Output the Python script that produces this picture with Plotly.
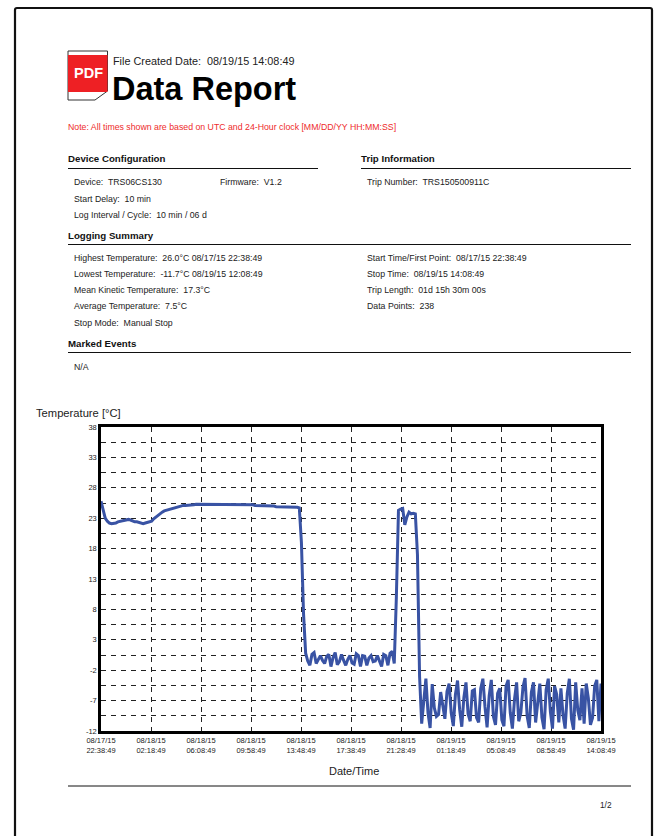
import plotly.graph_objects as go

W, H = 663, 836
FONT = "Liberation Sans"

temperature = [
    25.8, 24.3, 23.0, 22.5, 22.2, 22.1, 22.1, 22.2, 22.4, 22.5,
    22.6, 22.7, 22.7, 22.8, 22.7, 22.5, 22.4, 22.4, 22.3, 22.2,
    22.1, 22.2, 22.3, 22.4, 22.5, 22.9, 23.2, 23.5, 23.8, 24.0,
    24.2, 24.3, 24.5, 24.6, 24.7, 24.8, 24.9, 25.0, 25.0, 25.1,
    25.1, 25.1, 25.2, 25.2, 25.2, 25.3, 25.3, 25.3, 25.3, 25.3,
    25.3, 25.3, 25.3, 25.3, 25.3, 25.3, 25.3, 25.3, 25.3, 25.3,
    25.3, 25.3, 25.3, 25.3, 25.3, 25.2, 25.2, 25.2, 25.2, 25.2,
    25.2, 25.2, 25.2, 25.1, 25.1, 25.1, 25.1, 25.0, 25.0, 25.0,
    25.0, 25.0, 25.0, 24.9, 24.9, 24.9, 24.9, 24.9, 24.9, 24.8,
    24.8, 24.8, 24.8, 24.8, 24.7, 19.0, 7.3, 0.8, -0.5, -1.2,
    0.6, 0.9, -0.9, -0.2, 0.4, -0.4, -0.9, 0.3, 0.6, -1.4,
    0.1, 0.9, -1.1, -0.6, 0.6, -0.4, -1.2, -0.2, 0.4, -0.8,
    -1.0, 0.7, 0.4, -1.4, 0.4, 0.3, -1.2, 0.0, 0.4, -0.6,
    -0.5, 0.4, -0.5, -1.4, 0.6, 0.4, -1.2, 0.8, 1.1, -0.9,
    10.0, 24.3, 24.5, 24.6, 21.9, 23.2, 24.0, 23.7, 23.8, 23.7,
    17.0, -3.0, -10.8, -7.0, -3.4, -9.0, -11.5, -4.3, -8.2, -9.6,
    -9.3, -5.6, -7.7, -10.0, -5.5, -4.2, -9.0, -11.2, -6.0, -3.7,
    -8.5, -11.3, -6.5, -4.0, -9.2, -10.4, -5.4, -5.2, -9.8, -10.6,
    -5.0, -3.4, -8.0, -11.4, -6.2, -3.6, -9.6, -11.0, -5.8, -5.0,
    -10.2, -11.2, -4.6, -3.6, -9.0, -11.6, -6.8, -4.0, -10.4, -9.0,
    -4.8, -3.3, -9.6, -11.5, -5.6, -4.0, -10.6, -7.0, -4.2, -9.8,
    -11.7, -5.2, -3.4, -8.8, -11.6, -4.6, -6.0, -10.6, -5.0, -9.4,
    -11.6, -5.8, -3.4, -10.0, -11.8, -4.0, -8.6, -10.2, -5.0, -10.8,
    -4.2, -6.6, -11.0, -9.8, -4.6, -3.6, -10.4, -4.2,
]
assert len(temperature) == 238

sample_index = list(range(len(temperature)))
x_tick_positions = [0, 23.7, 47.4, 71.1, 94.8, 118.5, 142.2, 165.9, 189.6, 213.3, 237]
x_tick_labels = [
    "08/17/15<br>22:38:49", "08/18/15<br>02:18:49", "08/18/15<br>06:08:49",
    "08/18/15<br>09:58:49", "08/18/15<br>13:48:49", "08/18/15<br>17:38:49",
    "08/18/15<br>21:28:49", "08/19/15<br>01:18:49", "08/19/15<br>05:08:49",
    "08/19/15<br>08:58:49", "08/19/15<br>14:08:49",
]
y_tick_positions = [38, 35.5, 33, 30.5, 28, 25.5, 23, 20.5, 18, 15.5, 13, 10.5, 8, 5.5, 3, 0.5, -2, -4.5, -7, -9.5, -12]
y_tick_labels = ["38", "", "33", "", "28", "", "23", "", "18", "", "13", "", "8", "", "3", "", "-2", "", "-7", "", "-12"]

BODY, HEAD = 8.75, 9.7
page_text = [
    (113, 61, "File Created Date:  08/19/15 14:08:49", 10.85, False, "#222"),
    (112, 89, "Data Report", 32.5, True, "#000"),
    (68, 127, "Note: All times shown are based on UTC and 24-Hour clock [MM/DD/YY HH:MM:SS]", 8.75, False, "#ee2b2b"),
    (68, 159, "Device Configuration", HEAD, True, "#111"),
    (361, 159, "Trip Information", HEAD, True, "#111"),
    (74, 182, "Device:  TRS06CS130", BODY, False, "#222"),
    (220, 182, "Firmware:  V1.2", BODY, False, "#222"),
    (367, 182, "Trip Number:  TRS150500911C", BODY, False, "#222"),
    (74, 199, "Start Delay:  10 min", BODY, False, "#222"),
    (74, 215, "Log Interval / Cycle:  10 min / 06 d", BODY, False, "#222"),
    (68, 235, "Logging Summary", HEAD, True, "#111"),
    (74, 258, "Highest Temperature:  26.0°C 08/17/15 22:38:49", BODY, False, "#222"),
    (74, 274, "Lowest Temperature:  -11.7°C 08/19/15 12:08:49", BODY, False, "#222"),
    (74, 290, "Mean Kinetic Temperature:  17.3°C", BODY, False, "#222"),
    (74, 306, "Average Temperature:  7.5°C", BODY, False, "#222"),
    (74, 323, "Stop Mode:  Manual Stop", BODY, False, "#222"),
    (367, 258, "Start Time/First Point:  08/17/15 22:38:49", BODY, False, "#222"),
    (367, 274, "Stop Time:  08/19/15 14:08:49", BODY, False, "#222"),
    (367, 290, "Trip Length:  01d 15h 30m 00s", BODY, False, "#222"),
    (367, 306, "Data Points:  238", BODY, False, "#222"),
    (68, 343, "Marked Events", HEAD, True, "#111"),
    (74, 367, "N/A", BODY, False, "#222"),
    (36, 413, "Temperature [°C]", 11.2, False, "#222"),
    (329, 771, "Date/Time", 11, False, "#222"),
    (600, 805, "1/2", 8.3, False, "#222"),
    (74, 73, "PDF", 14.5, True, "#fff"),
]
rules = [(68, 318, 168.5), (361, 631, 168.5), (68, 631, 244.5), (68, 631, 352.5), (68, 631, 786)]


def px(x):
    return x / W


def py(y):
    return 1 - y / H


fig = go.Figure(go.Scatter(
    x=sample_index, y=temperature, mode="lines",
    line=dict(color="#3953a4", width=3), hoverinfo="skip",
))

shapes = []
shapes.append(dict(type="path", xref="paper", yref="paper",
                   path=f"M {px(15)} {py(840)} L {px(15)} {py(10)} Q {px(15)} {py(8)} {px(17)} {py(8)} "
                        f"L {px(650)} {py(8)} Q {px(652)} {py(8)} {px(652)} {py(10)} L {px(652)} {py(840)}",
                   line=dict(color="#111", width=2.2)))
for x0, x1, y in rules:
    shapes.append(dict(type="line", xref="paper", yref="paper", x0=px(x0), x1=px(x1), y0=py(y), y1=py(y),
                       line=dict(color="#111", width=1)))
shapes.append(dict(type="path", xref="paper", yref="paper",
                   path=f"M {px(68)} {py(51)} L {px(107.5)} {py(51)} L {px(107.5)} {py(91)} L {px(95)} {py(100)} L {px(68)} {py(100)} Z",
                   fillcolor="#fff", line=dict(color="#333", width=1)))
shapes.append(dict(type="rect", xref="paper", yref="paper", x0=px(68), x1=px(107.5), y0=py(55), y1=py(92),
                   fillcolor="#ee2024", line=dict(width=0)))

annotations = []
for x, y, t, size, bold, col in page_text:
    center = t == "Date/Time"
    annotations.append(dict(xref="paper", yref="paper", x=px(354 if center else x), y=py(y),
                            xanchor="center" if center else "left", yanchor="middle",
                            borderpad=0, borderwidth=0,
                            text=f"<b>{t}</b>" if bold else t, showarrow=False,
                            font=dict(family=FONT, size=size, color=col)))

fig.update_layout(
    width=W, height=H, margin=dict(l=0, r=0, t=0, b=0, autoexpand=False),
    paper_bgcolor="#fff", plot_bgcolor="#fff", showlegend=False,
    font=dict(family=FONT), shapes=shapes, annotations=annotations,
    xaxis=dict(domain=[px(101), px(601)], range=[0, 237], tickmode="array",
               tickvals=x_tick_positions, ticktext=x_tick_labels,
               tickfont=dict(size=7.5, color="#222", family=FONT), ticks="", ticklen=0,
               showgrid=True, gridcolor="#222", gridwidth=1, griddash="5px,5px",
               showline=True, linecolor="#000", linewidth=2.5, mirror=True, zeroline=False),
    yaxis=dict(domain=[py(731), py(427)], range=[-12, 38], tickmode="array",
               tickvals=y_tick_positions, ticktext=y_tick_labels,
               tickfont=dict(size=7.5, color="#222", family=FONT), ticks="", ticklen=0,
               showgrid=True, gridcolor="#222", gridwidth=1, griddash="5px,5px",
               showline=True, linecolor="#000", linewidth=2.5, mirror=True, zeroline=False),
)

fig.write_html("out.html", config={"displayModeBar": False},
               post_script="document.body.style.margin='0';document.body.style.overflow='hidden';")
